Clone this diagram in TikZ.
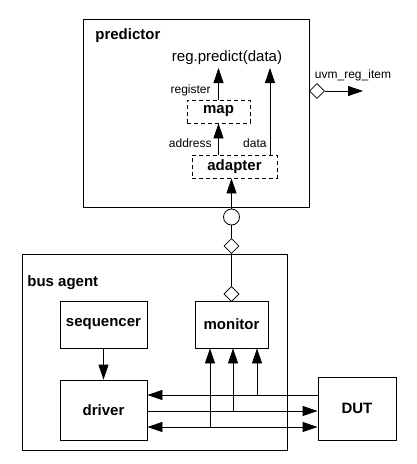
\documentclass[tikz,border=0pt]{standalone}
\usepackage{fontspec}
\setmainfont{Liberation Sans}
\usetikzlibrary{arrows.meta,shapes.geometric}

\begin{document}
\begin{tikzpicture}[x=1pt,y=-1pt,line width=.8pt,every node/.style={inner sep=0pt}]
\tikzstyle{blk}=[draw,rectangle,font=\fontsize{15}{18}\selectfont\bfseries]
\tikzstyle{dbox}=[blk,dash pattern=on 4pt off 3pt]
\tikzstyle{lbl}=[font=\fontsize{12}{14}\selectfont]
\tikzstyle{ttl}=[anchor=base west,font=\fontsize{15}{18}\selectfont\bfseries]
\tikzstyle{arr}=[-{Triangle[length=15pt,width=10pt]}]
\tikzstyle{dmd}=[draw,diamond,fill=white,minimum width=15pt,minimum height=15pt]

\useasboundingbox (0,0) rectangle (417,464);

% predictor
\node[blk,minimum width=226pt,minimum height=188pt] (pred) at (196,113) {};
\node[ttl] (predname) at (95,39) {predictor};
\node[anchor=base,font=\fontsize{15}{18}\selectfont] (predict) at (227,61) {reg.predict(data)};
\node[dbox,minimum width=63pt,minimum height=23pt] (map) at (218.5,111.5) {map};
\node[dbox,minimum width=85pt,minimum height=23pt] (adapter) at (234.5,166.5) {adapter};

\coordinate (regtip) at (218.5,68);
\coordinate (datatip) at (270,68);
\draw[arr] (map.north) -- (regtip);
\draw[arr] (adapter.north -| map.south) -- (map.south);
\draw[arr] (adapter.north -| datatip) -- (datatip);
\node[lbl,anchor=base east] (reglbl) at (211,93) {register};
\node[lbl,anchor=base east] (addrlbl) at (212,147) {address};
\node[lbl,anchor=base east] (datalbl) at (267,147) {data};

% analysis port out
\node[dmd] (outport) at (317,91) {};
\coordinate (outtip) at (363,91);
\draw[arr] (outport.east) -- (outtip);
\node[lbl,anchor=base] (itemlbl) at (353,78) {uvm\_reg\_item};

% imp and ports
\node[draw,circle,minimum size=16pt] (imp) at (231.5,217) {};
\draw[arr] (imp.north) -- (imp.north |- adapter.south);
\node[dmd] (port1) at (231.5,246) {};
\node[dmd] (port2) at (231.5,294) {};
\draw (imp.south) -- (port1.north);
\draw (port1.south) -- (port2.north);

% bus agent
\node[blk,minimum width=265pt,minimum height=196pt] (agent) at (154.5,352) {};
\node[ttl] (agentname) at (27,286) {bus agent};
\node[blk,minimum width=87pt,minimum height=47pt] (seqr) at (103.5,324.5) {sequencer};
\node[blk,minimum width=73pt,minimum height=47pt] (mon) at (231.5,324.5) {monitor};
\node[blk,minimum width=87pt,minimum height=60pt] (drv) at (103.5,410) {driver};
\node[blk,minimum width=78pt,minimum height=63pt] (dut) at (357,408.5) {DUT};
\node[dmd] at (port2) {};

\draw[arr] (seqr.south) -- (drv.north);

\coordinate (w1) at (257,395);
\coordinate (w2) at (233,411);
\coordinate (w3) at (210,427);
\draw[arr] (dut.west |- w1) -- (drv.east |- w1);
\draw[arr] (drv.east |- w2) -- (dut.west |- w2);
\draw[{Triangle[length=15pt,width=10pt]}-{Triangle[length=15pt,width=10pt]}] (drv.east |- w3) -- (dut.west |- w3);
\foreach \w in {w1,w2,w3} {
  \draw[arr] (\w) -- (\w |- mon.south);
}
\end{tikzpicture}
\end{document}
